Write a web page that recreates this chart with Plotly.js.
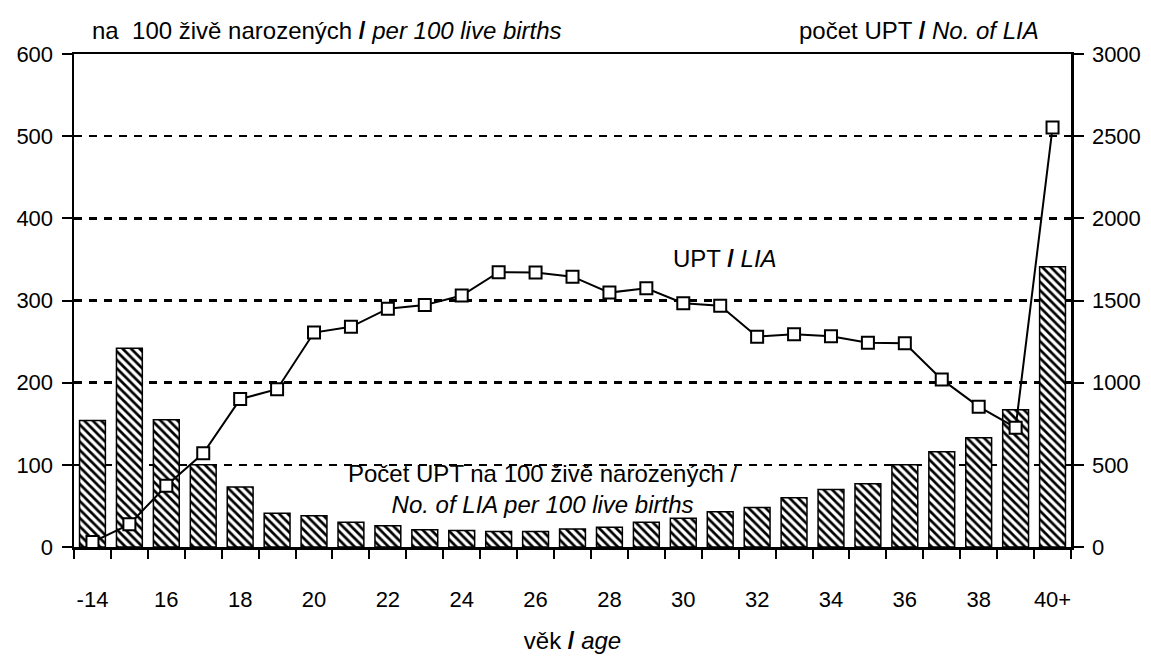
<!DOCTYPE html>
<html>
<head>
<meta charset="utf-8">
<script src="https://cdn.plot.ly/plotly-3.0.1.min.js"></script>
<style>html,body{margin:0;padding:0;background:#fff}#chart{width:1151px;height:657px}</style>
</head>
<body>
<div id="chart"></div>
<script>
const categories = ['-14','15','16','17','18','19','20','21','22','23','24','25','26','27','28','29','30','31','32','33','34','35','36','37','38','39','40+'];
const tickLabels = ['-14','','16','','18','','20','','22','','24','','26','','28','','30','','32','','34','','36','','38','','40+'];
const ratePer100 = [154,242,155,100,73,41,38,30,26,21,20,19,19,22,24,30,35,43,48,60,70,77,100,116,133,167,341];
const liaCount = [30,138,373,570,900,960,1305,1340,1450,1472,1530,1672,1670,1645,1548,1574,1483,1468,1280,1294,1282,1243,1240,1020,854,726,2552];

const FONT = '"Liberation Sans", Arial, sans-serif';
const FS = 22;
const AFS = 24;

const traces = [
  {
    type: 'bar', x: categories, y: ratePer100, yaxis: 'y',
    marker: {
      color: '#ffffff',
      line: {color: '#000', width: 1.5},
      pattern: {shape: '\\', fgcolor: '#000', bgcolor: '#fff', size: 6, solidity: 0.45}
    },
    hoverinfo: 'x+y', showlegend: false
  },
  {
    type: 'scatter', mode: 'lines+markers', x: categories, y: liaCount, yaxis: 'y2',
    line: {color: '#000', width: 2},
    marker: {symbol: 'square', size: 12, color: '#fff', line: {color: '#000', width: 2}},
    showlegend: false
  }
];

const layout = {
  width: 1151, height: 657,
  margin: {l: 74, r: 80, t: 54, b: 110},
  paper_bgcolor: '#fff', plot_bgcolor: '#fff',
  font: {family: FONT, size: FS, color: '#000'},
  bargap: 0.3,
  xaxis: {
    type: 'category', range: [-0.5, 26.5], autorange: false,
    tickmode: 'array', tickvals: categories, ticktext: tickLabels, tickangle: 0,
    tickson: 'boundaries', ticks: 'outside', ticklen: 9, tickwidth: 2, tickcolor: '#000',
    ticklabelstandoff: 31,
    showline: true, linecolor: '#000', linewidth: 2.5, mirror: true,
    showgrid: false, zeroline: false,
    tickfont: {family: FONT, size: FS},
    title: {text: 'věk <b>/</b> <i>age</i>', font: {family: FONT, size: AFS}, standoff: 22}
  },
  yaxis: {
    range: [0, 600], autorange: false, tickvals: [0,100,200,300,400,500,600],
    ticks: 'outside', ticklen: 10, tickwidth: 2, tickcolor: '#000',
    ticklabelstandoff: 4,
    showline: true, linecolor: '#000', linewidth: 2.5,
    showgrid: true, gridcolor: '#000', gridwidth: 2.5, griddash: '8px,7px',
    zeroline: false, tickfont: {family: FONT, size: FS}
  },
  yaxis2: {
    range: [0, 3000], autorange: false, tickvals: [0,500,1000,1500,2000,2500,3000],
    overlaying: 'y', side: 'right',
    ticks: 'outside', ticklen: 10, tickwidth: 2, tickcolor: '#000',
    ticklabelstandoff: 4,
    showline: true, linecolor: '#000', linewidth: 2.5,
    showgrid: false, zeroline: false, tickfont: {family: FONT, size: FS}
  },
  annotations: [
    {xref: 'paper', yref: 'paper', x: 0.016, y: 1.0, yshift: 8, xanchor: 'left', yanchor: 'bottom', showarrow: false,
     text: 'na  100 živě narozených <b>/</b> <i>per 100 live births</i>', font: {family: FONT, size: AFS}},
    {xref: 'paper', yref: 'paper', x: 0.97, y: 1.0, yshift: 8, xanchor: 'right', yanchor: 'bottom', showarrow: false,
     text: 'počet UPT <b>/</b> <i>No. of LIA</i>', font: {family: FONT, size: AFS}},
    {xref: 'paper', yref: 'paper', x: 0.653, y: 0.586, xanchor: 'center', yanchor: 'middle', showarrow: false,
     text: 'UPT <b>/</b> <i>LIA</i>', font: {family: FONT, size: AFS}},
    {xref: 'paper', yref: 'paper', x: 0.47, y: 0.118, xanchor: 'center', yanchor: 'middle', showarrow: false,
     text: 'Počet UPT na 100 živě narozených /<br><i>No. of LIA per 100 live births</i>', font: {family: FONT, size: AFS}}
  ]
};

Plotly.newPlot('chart', traces, layout, {displayModeBar: false, staticPlot: true});
</script>
</body>
</html>
